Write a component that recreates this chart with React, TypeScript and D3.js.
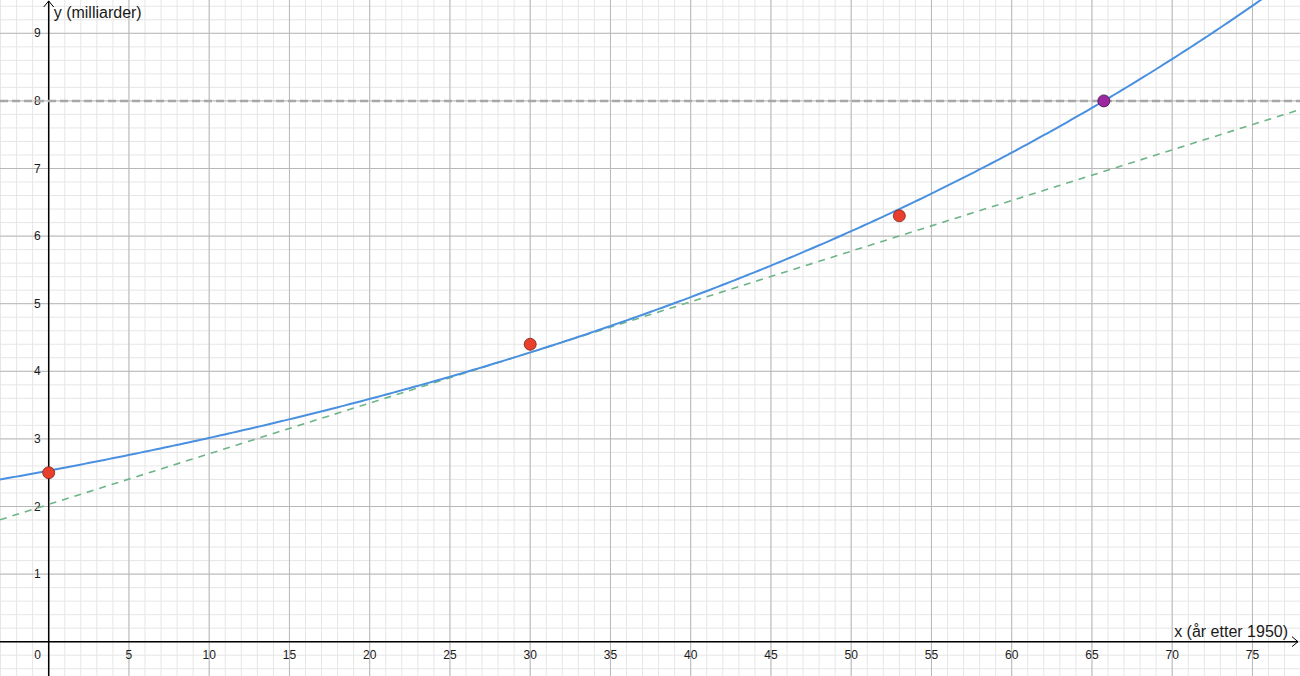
import * as d3 from 'd3';
import { useEffect, useRef } from 'react';

// målte punkter (år etter 1950, milliarder)
const years = [0, 30, 53];
const population = [2.5, 4.4, 6.3];
const targetLevel = 8;
const tangentAt = 30;
const xTicks = [0, 5, 10, 15, 20, 25, 30, 35, 40, 45, 50, 55, 60, 65, 70, 75];
const yTicks = [1, 2, 3, 4, 5, 6, 7, 8, 9];
const xLabel = 'x (år etter 1950)';
const yLabel = 'y (milliarder)';

const W = 1300;
const H = 676;

const App = () => {
  const ref = useRef<SVGSVGElement | null>(null);

  useEffect(() => {
    if (!ref.current) return;
    const svg = d3.select(ref.current);
    svg.selectAll('*').remove();

    const x = d3.scaleLinear().domain([-48.7 / 16.05, (W - 48.7) / 16.05]).range([0, W]);
    const y = d3.scaleLinear().domain([-(H - 641.7) / 67.6, 641.7 / 67.6]).range([H, 0]);
    const [x0, x1] = x.domain();
    const [y0, y1] = y.domain();

    // eksponentiell regresjon (minste kvadrater på ln y)
    const lny = population.map(Math.log);
    const mx = d3.mean(years)!;
    const my = d3.mean(lny)!;
    const sxy = d3.sum(years, (v, i) => (v - mx) * (lny[i] - my));
    const sxx = d3.sum(years, v => (v - mx) ** 2);
    const k = sxy / sxx;
    const a = Math.exp(my - k * mx);
    const f = (t: number) => a * Math.exp(k * t);
    const fa = f(tangentAt);
    const tangent = (t: number) => fa + k * fa * (t - tangentAt);
    const xHit = Math.log(targetLevel / a) / k;

    // rutenett
    const grid = svg.append('g');
    grid.selectAll('line.mx')
      .data(d3.range(Math.ceil(x0), x1, 1))
      .enter().append('line')
      .attr('x1', d => x(d)).attr('x2', d => x(d))
      .attr('y1', 0).attr('y2', H)
      .attr('stroke', '#e6e6e6').attr('stroke-width', 1);
    grid.selectAll('line.my')
      .data(d3.range(Math.ceil(y0 * 5), y1 * 5, 1).map(v => v / 5))
      .enter().append('line')
      .attr('x1', 0).attr('x2', W)
      .attr('y1', d => y(d)).attr('y2', d => y(d))
      .attr('stroke', '#e6e6e6').attr('stroke-width', 1);
    grid.selectAll('line.Mx')
      .data(d3.range(0, x1, 5))
      .enter().append('line')
      .attr('x1', d => x(d)).attr('x2', d => x(d))
      .attr('y1', 0).attr('y2', H)
      .attr('stroke', '#b8b8b8').attr('stroke-width', 1);
    grid.selectAll('line.My')
      .data(d3.range(0, y1, 1))
      .enter().append('line')
      .attr('x1', 0).attr('x2', W)
      .attr('y1', d => y(d)).attr('y2', d => y(d))
      .attr('stroke', '#b8b8b8').attr('stroke-width', 1);

    // akser
    const axes = svg.append('g').attr('stroke', '#000').attr('fill', 'none');
    axes.append('line').attr('x1', 0).attr('x2', W - 2).attr('y1', y(0)).attr('y2', y(0)).attr('stroke-width', 1.5);
    axes.append('line').attr('x1', x(0)).attr('x2', x(0)).attr('y1', 1).attr('y2', H).attr('stroke-width', 1.5);
    axes.append('path')
      .attr('d', `M${W - 8},${y(0) - 5}L${W - 2},${y(0)}L${W - 8},${y(0) + 5}`)
      .attr('stroke-width', 1);
    axes.append('path')
      .attr('d', `M${x(0) - 5},${7}L${x(0)},${1}L${x(0) + 5},${7}`)
      .attr('stroke-width', 1);

    const font = '"Liberation Sans", Arial, sans-serif';
    const labels = svg.append('g').attr('font-family', font).attr('fill', '#1a1a1a');
    labels.selectAll('text.xt')
      .data(xTicks)
      .enter().append('text')
      .attr('x', d => (d === 0 ? x(0) - 11 : x(d)))
      .attr('y', y(0) + 17)
      .attr('text-anchor', 'middle')
      .attr('font-size', 12)
      .text(d => d);
    labels.selectAll('text.yt')
      .data(yTicks)
      .enter().append('text')
      .attr('x', x(0) - 8)
      .attr('y', d => y(d) + 4)
      .attr('text-anchor', 'end')
      .attr('font-size', 12)
      .text(d => d);
    labels.append('text')
      .attr('x', x(0) + 5).attr('y', 18)
      .attr('font-size', 16)
      .text(yLabel);
    labels.append('text')
      .attr('x', W - 12).attr('y', y(0) - 5)
      .attr('text-anchor', 'end')
      .attr('font-size', 16)
      .text(xLabel);

    // horisontal linje y = 8
    svg.append('line')
      .attr('x1', 0).attr('x2', W)
      .attr('y1', y(targetLevel)).attr('y2', y(targetLevel))
      .attr('stroke', '#a8a8a8').attr('stroke-width', 2.5)
      .attr('stroke-dasharray', '8 4');

    // tangent
    svg.append('line')
      .attr('x1', x(x0)).attr('x2', x(x1))
      .attr('y1', y(tangent(x0))).attr('y2', y(tangent(x1)))
      .attr('stroke', '#6db487').attr('stroke-width', 1.6)
      .attr('stroke-dasharray', '7 6');

    // regresjonskurve
    const samples = d3.range(x0, x1 + 0.25, 0.25);
    const line = d3.line<number>().x(d => x(d)).y(d => y(f(d)));
    svg.append('path')
      .attr('d', line(samples) ?? '')
      .attr('fill', 'none')
      .attr('stroke', '#4a90e0')
      .attr('stroke-width', 2);

    // punkter
    svg.selectAll('circle.p')
      .data(years)
      .enter().append('circle')
      .attr('cx', d => x(d))
      .attr('cy', (d, i) => y(population[i]))
      .attr('r', 6)
      .attr('fill', '#e8402c')
      .attr('stroke', '#7a2418')
      .attr('stroke-width', 0.8);
    svg.append('circle')
      .attr('cx', x(xHit)).attr('cy', y(targetLevel))
      .attr('r', 6)
      .attr('fill', '#9c28a0')
      .attr('stroke', '#3d1040')
      .attr('stroke-width', 0.8);
  }, []);

  return (
    <svg
      ref={ref}
      width={W}
      height={H}
      style={{ position: 'absolute', left: 0, top: 0, background: '#fff' }}
    />
  );
};

export default App;
